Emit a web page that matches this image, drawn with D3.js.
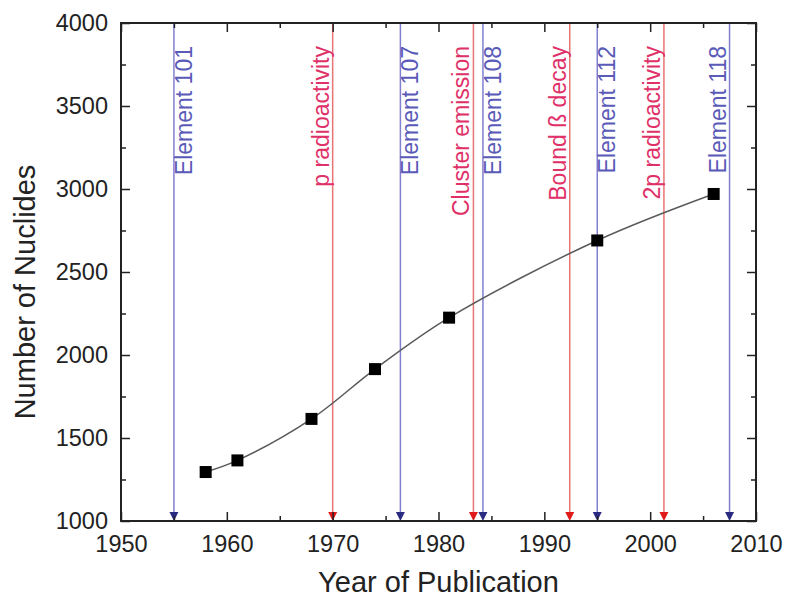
<!DOCTYPE html>
<html>
<head>
<meta charset="utf-8">
<script src="https://cdn.jsdelivr.net/npm/d3@7"></script>
<style>
  body { margin: 0; background: #fff; }
  text { font-family: "Liberation Sans", Arial, sans-serif; }
</style>
</head>
<body>
<div id="chart"></div>
<script>
// Nuclide counts by year
const years = [1958, 1961, 1968, 1974, 1981, 1995, 2006];
const nuclides = [1295, 1365, 1615, 1915, 2225, 2690, 2970];

// Discovery markers
const eventYears = [1955, 1970, 1976.4, 1983.3, 1984.2, 1992.4, 1995, 2001.3, 2007.5];
const eventLabels = ['Element 101', 'p radioactivity', 'Element 107', 'Cluster emission',
    'Element 108', 'Bound ß decay', 'Element 112', '2p radioactivity', 'Element 118'];
const eventKinds = ['element', 'decay', 'element', 'decay', 'element', 'decay', 'element', 'decay', 'element'];

const xTicks = [1950, 1960, 1970, 1980, 1990, 2000, 2010];
const yTicks = [1000, 1500, 2000, 2500, 3000, 3500, 4000];

const width = 785, height = 599;
const margin = { top: 23, right: 29, bottom: 78, left: 121 };
const innerW = width - margin.left - margin.right;
const innerH = height - margin.top - margin.bottom;

const colors = {
    element: { line: '#8080d0', head: '#2a2a80', text: '#5a5ab8' },
    decay: { line: '#e87474', head: '#e01a1a', text: '#e03068' }
};

const svg = d3.select('#chart').append('svg')
    .attr('width', width)
    .attr('height', height);

const g = svg.append('g')
    .attr('transform', `translate(${margin.left},${margin.top})`);

const x = d3.scaleLinear().domain([1950, 2010]).range([0, innerW]);
const y = d3.scaleLinear().domain([1000, 4000]).range([innerH, 0]);

// Event lines with arrowheads
const events = eventYears.map((yr, i) => ({ year: yr, label: eventLabels[i], kind: eventKinds[i] }));

const ev = g.selectAll('.event').data(events).enter()
    .append('g').attr('class', 'event')
    .attr('transform', d => `translate(${x(d.year)},0)`);

ev.append('line')
    .attr('y1', 0).attr('y2', innerH - 6)
    .attr('stroke', d => colors[d.kind].line)
    .attr('stroke-width', 1.5);

ev.append('path')
    .attr('d', `M-4.5,${innerH - 9}L4.5,${innerH - 9}L0,${innerH}Z`)
    .attr('fill', d => colors[d.kind].head);

ev.append('text')
    .attr('transform', d => {
        // decay labels sit left of the line, element labels right (except at the edge)
        const left = d.kind === 'decay' || d.year > 2005;
        return `translate(${left ? -4 : 18},23) rotate(-90)`;
    })
    .attr('text-anchor', 'end')
    .style('font-size', '23px')
    .style('fill', d => colors[d.kind].text)
    .text(d => d.label);

// Data curve
const pts = years.map((yr, i) => ({ year: yr, value: nuclides[i] }));

g.append('path')
    .datum(pts)
    .attr('fill', 'none')
    .attr('stroke', '#5a5a5a')
    .attr('stroke-width', 1.5)
    .attr('d', d3.line()
        .x(d => x(d.year))
        .y(d => y(d.value))
        .curve(d3.curveCatmullRom));

g.selectAll('.pt').data(pts).enter()
    .append('rect')
    .attr('class', 'pt')
    .attr('x', d => x(d.year) - 6)
    .attr('y', d => y(d.value) - 6)
    .attr('width', 12)
    .attr('height', 12)
    .attr('fill', '#000');

// Axes with inward ticks on all sides
function drawTicks(axisGen, transform) {
    const a = g.append('g').attr('transform', transform).call(axisGen);
    a.select('.domain').remove();
    a.selectAll('line').attr('stroke', '#222').attr('stroke-width', 1.5);
    return a;
}

const xMinor = d3.range(1955, 2010, 10);
const yMinor = d3.range(1250, 4000, 500);

// bottom
const xb = drawTicks(d3.axisBottom(x).tickValues(xTicks).tickSize(-9).tickPadding(14).tickFormat(d3.format('d')),
    `translate(0,${innerH})`);
xb.selectAll('text').style('font-size', '23.5px').style('fill', '#222');
drawTicks(d3.axisBottom(x).tickValues(xMinor).tickSize(-5).tickFormat(''), `translate(0,${innerH})`);
// top
drawTicks(d3.axisTop(x).tickValues(xTicks).tickSize(-9).tickFormat(''), 'translate(0,0)');
drawTicks(d3.axisTop(x).tickValues(xMinor).tickSize(-5).tickFormat(''), 'translate(0,0)');
// left
const yl = drawTicks(d3.axisLeft(y).tickValues(yTicks).tickSize(-9).tickPadding(13).tickFormat(d3.format('d')),
    'translate(0,0)');
yl.selectAll('text').style('font-size', '23.5px').style('fill', '#222');
drawTicks(d3.axisLeft(y).tickValues(yMinor).tickSize(-5).tickFormat(''), 'translate(0,0)');
// right
drawTicks(d3.axisRight(y).tickValues(yTicks).tickSize(-9).tickFormat(''), `translate(${innerW},0)`);
drawTicks(d3.axisRight(y).tickValues(yMinor).tickSize(-5).tickFormat(''), `translate(${innerW},0)`);

// Frame
g.append('rect')
    .attr('width', innerW)
    .attr('height', innerH)
    .attr('fill', 'none')
    .attr('stroke', '#222')
    .attr('stroke-width', 2);

// Titles
svg.append('text')
    .attr('x', margin.left + innerW / 2)
    .attr('y', 592)
    .attr('text-anchor', 'middle')
    .style('font-size', '29px')
    .style('fill', '#222')
    .text('Year of Publication');

svg.append('text')
    .attr('transform', 'translate(35,292) rotate(-90)')
    .attr('text-anchor', 'middle')
    .style('font-size', '29px')
    .style('fill', '#222')
    .text('Number of Nuclides');
</script>
</body>
</html>
